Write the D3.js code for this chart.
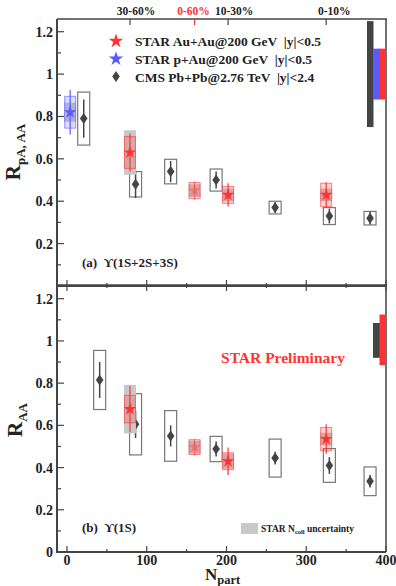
<!DOCTYPE html>
<html>
<head>
<meta charset="utf-8">
<script src="https://cdn.jsdelivr.net/npm/d3@7"></script>
<style>
  body { margin: 0; background: #fff; }
  svg text { font-family: "Liberation Serif", "DejaVu Serif", serif; font-weight: bold; }
</style>
</head>
<body>
<svg id="chart" width="396" height="586"></svg>
<script>
// ---- data ----
const xTicks = [0, 100, 200, 300, 400];
const yTickLabels = ['0.2', '0.4', '0.6', '0.8', '1', '1.2'];
const centLabels = ['30-60%', '0-60%', '10-30%', '0-10%'];
const centNpart = [79, 160, 202, 325];

// STAR Au+Au, panel (a)
const starAuNpart = [79, 160, 202, 325];
const starAuA = [0.63, 0.45, 0.43, 0.43];
const starAuAStat = [0.09, 0.045, 0.055, 0.06];
const starAuASys = [0.075, 0.038, 0.04, 0.055];
const starAuANcoll = [0.105, 0.03, 0.03, 0.03];
// STAR Au+Au, panel (b)
const starAuB = [0.677, 0.497, 0.43, 0.535];
const starAuBStat = [0.11, 0.04, 0.065, 0.07];
const starAuBSys = [0.065, 0.035, 0.04, 0.055];
const starAuBNcoll = [0.115, 0.03, 0.035, 0.03];

// STAR p+Au (panel a only)
const starPNpart = [4];
const starPA = [0.82];
const starPAStat = [0.105];
const starPASys = [0.075];
const starPANcoll = [0.045];

// CMS Pb+Pb
const cmsNpartA = [21, 86, 130, 187, 261, 329, 380];
const cmsA = [0.79, 0.48, 0.54, 0.50, 0.37, 0.33, 0.32];
const cmsAStat = [0.09, 0.065, 0.05, 0.04, 0.025, 0.035, 0.03];
const cmsASys = [0.125, 0.06, 0.058, 0.052, 0.03, 0.04, 0.032];
const cmsNpartB = [41, 86, 130, 187, 261, 329, 380];
const cmsB = [0.815, 0.605, 0.55, 0.488, 0.445, 0.41, 0.335];
const cmsBStat = [0.085, 0.065, 0.05, 0.035, 0.03, 0.04, 0.03];
const cmsBSys = [0.14, 0.145, 0.12, 0.06, 0.09, 0.08, 0.068];

// global uncertainties [low, high]
const globA = { cms: [0.75, 1.25], pAu: [0.88, 1.12], auAu: [0.88, 1.12] };
const globB = { cms: [0.92, 1.085], auAu: [0.885, 1.125] };

const legendLabels = ['STAR Au+Au@200 GeV  |y|<0.5', 'STAR p+Au@200 GeV  |y|<0.5', 'CMS Pb+Pb@2.76 TeV  |y|<2.4'];

// ---- layout ----
const RED = '#ff3333', BLUE = '#5a5aff', DARK = '#444', GRAY = '#c8c8c8';
const left = 57, right = 386;
const svg = d3.select('#chart');

const x = d3.scaleLinear().domain([-12.5, 400]).range([left, right]);
const yA = d3.scaleLinear().domain([0, 1.26]).range([286, 19]);
const yB = d3.scaleLinear().domain([0, 1.265]).range([552, 285]);

const diamond = 'M0,-5.5L3.8,0L0,5.5L-3.8,0Z';
const star = d3.symbol().type(d3.symbolStar).size(50)();
const legStar = d3.symbol().type(d3.symbolStar).size(65)();

function drawFrame(y, topTicks) {
  const g = svg.append('g');
  const [y0, y1] = y.range();
  // x ticks on bottom (inside)
  const xt = d3.range(0, 401, 50);
  g.selectAll('.xb').data(xt).join('line')
    .attr('x1', d => x(d)).attr('x2', d => x(d))
    .attr('y1', y0).attr('y2', d => y0 - (d % 100 === 0 ? 6 : 3))
    .attr('stroke', DARK).attr('stroke-width', 1.2);
  if (topTicks) {
    g.selectAll('.xt').data(xt).join('line')
      .attr('x1', d => x(d)).attr('x2', d => x(d))
      .attr('y1', y1).attr('y2', d => y1 + (d % 100 === 0 ? 6 : 3))
      .attr('stroke', DARK).attr('stroke-width', 1.2);
  }
  // y ticks on left (inside)
  const yt = d3.range(1, 13).map(d => d / 10);
  g.selectAll('.yl').data(yt).join('line')
    .attr('x1', left).attr('x2', (d, i) => left + (i % 2 === 1 ? 7 : 4))
    .attr('y1', d => y(d)).attr('y2', d => y(d))
    .attr('stroke', DARK).attr('stroke-width', 1.2);
  g.selectAll('.ylab').data(yTickLabels).join('text')
    .attr('x', left - 4).attr('y', d => y(+d) + 5)
    .attr('text-anchor', 'end').attr('font-size', 14).attr('fill', '#222')
    .text(d => d);
  // frame
  g.append('line').attr('x1', left).attr('x2', left).attr('y1', y0).attr('y2', y1)
    .attr('stroke', DARK).attr('stroke-width', 2);
  g.append('line').attr('x1', left - 1).attr('x2', right).attr('y1', y0).attr('y2', y0)
    .attr('stroke', DARK).attr('stroke-width', 2);
  g.append('line').attr('x1', left).attr('x2', right + 1).attr('y1', y1).attr('y2', y1)
    .attr('stroke', DARK).attr('stroke-width', 1.5);
  g.append('line').attr('x1', right).attr('x2', right).attr('y1', y0).attr('y2', y1)
    .attr('stroke', DARK).attr('stroke-width', 1.5);
}

function drawStar(y, npart, vals, stat, sys, ncoll, color, lightIdx) {
  const g = svg.append('g');
  npart.forEach((n, i) => {
    const cx = x(n);
    g.append('rect').attr('x', cx - 6).attr('width', 12)
      .attr('y', y(vals[i] + ncoll[i])).attr('height', y(vals[i] - ncoll[i]) - y(vals[i] + ncoll[i]))
      .attr('fill', GRAY);
    g.append('rect').attr('x', cx - 5.5).attr('width', 11)
      .attr('y', y(vals[i] + sys[i])).attr('height', y(vals[i] - sys[i]) - y(vals[i] + sys[i]))
      .attr('fill', color).attr('fill-opacity', 0.22)
      .attr('stroke', color).attr('stroke-opacity', 0.6).attr('stroke-width', 1);
    g.append('line').attr('x1', cx).attr('x2', cx)
      .attr('y1', y(vals[i] + stat[i])).attr('y2', y(vals[i] - stat[i]))
      .attr('stroke', color).attr('stroke-width', 1.2)
      .attr('opacity', i === lightIdx ? 0.55 : 1);
    g.append('path').attr('d', star).attr('transform', `translate(${cx},${y(vals[i])})`)
      .attr('fill', color).attr('opacity', i === lightIdx ? 0.35 : 1);
  });
}

function drawCms(y, npart, vals, stat, sys) {
  const g = svg.append('g');
  npart.forEach((n, i) => {
    const cx = x(n);
    g.append('rect').attr('x', cx - 6).attr('width', 12)
      .attr('y', y(vals[i] + sys[i])).attr('height', y(vals[i] - sys[i]) - y(vals[i] + sys[i]))
      .attr('fill', 'none').attr('stroke', '#777').attr('stroke-width', 1.2);
    g.append('line').attr('x1', cx).attr('x2', cx)
      .attr('y1', y(vals[i] + stat[i])).attr('y2', y(vals[i] - stat[i]))
      .attr('stroke', DARK).attr('stroke-width', 1.5);
    g.append('path').attr('d', diamond).attr('transform', `translate(${cx},${y(vals[i])})`)
      .attr('fill', DARK);
  });
}

function globalBar(y, range, x0, w, color) {
  svg.append('rect').attr('x', x0).attr('width', w)
    .attr('y', y(range[1])).attr('height', y(range[0]) - y(range[1]))
    .attr('fill', color);
}

// ---- panel (a) ----
drawFrame(yA, false);
drawCms(yA, cmsNpartA, cmsA, cmsAStat, cmsASys);
drawStar(yA, starPNpart, starPA, starPAStat, starPASys, starPANcoll, BLUE, -1);
drawStar(yA, starAuNpart, starAuA, starAuAStat, starAuASys, starAuANcoll, RED, 1);
globalBar(yA, globA.cms, right - 19, 6.5, DARK);
globalBar(yA, globA.pAu, right - 13, 7, BLUE);
globalBar(yA, globA.auAu, right - 6.5, 6.5, RED);

// centrality axis on top
svg.selectAll('.ct').data(centNpart).join('line')
  .attr('x1', d => x(d)).attr('x2', d => x(d)).attr('y1', 19).attr('y2', 25)
  .attr('stroke', (d, i) => i === 1 ? RED : DARK).attr('stroke-width', 1.2);
svg.selectAll('.cl').data(centLabels).join('text')
  .attr('x', (d, i) => x(centNpart[i]) + (i === 1 ? -1 : i === 3 ? 8 : 6))
  .attr('y', 15).attr('text-anchor', 'middle').attr('font-size', 11.5)
  .attr('fill', (d, i) => i === 1 ? RED : '#222')
  .text(d => d);

// legend
const legColors = [RED, BLUE, DARK];
legendLabels.forEach((t, i) => {
  const cy = 41 + i * 17.8;
  svg.append('path').attr('d', i < 2 ? legStar : diamond)
    .attr('transform', `translate(116,${cy})`).attr('fill', legColors[i]);
  svg.append('text').attr('x', 135).attr('y', cy + 5).attr('font-size', 13.5)
    .attr('fill', '#222').style('white-space', 'pre').text(t);
});

svg.append('text').attr('x', 82).attr('y', 267).attr('font-size', 13).attr('fill', '#222')
  .style('white-space', 'pre').text('(a)  ϒ(1S+2S+3S)');

// y title (a)
const tA = svg.append('text').attr('transform', 'translate(20,152) rotate(-90)')
  .attr('text-anchor', 'middle').attr('fill', '#222');
tA.append('tspan').attr('font-size', 21).text('R');
tA.append('tspan').attr('font-size', 13).attr('dy', 5).text('pA, AA');

// ---- panel (b) ----
drawFrame(yB, true);
drawCms(yB, cmsNpartB, cmsB, cmsBStat, cmsBSys);
drawStar(yB, starAuNpart, starAuB, starAuBStat, starAuBSys, starAuBNcoll, RED, 1);
globalBar(yB, globB.cms, right - 13, 7, DARK);
globalBar(yB, globB.auAu, right - 6.5, 6.5, RED);

svg.append('text').attr('x', left - 4).attr('y', yB(0) + 5).attr('text-anchor', 'end')
  .attr('font-size', 14).attr('fill', '#222').text('0');

svg.append('text').attr('x', 283).attr('y', 363).attr('text-anchor', 'middle')
  .attr('font-size', 15.5).attr('fill', RED).text('STAR Preliminary');

svg.append('text').attr('x', 82).attr('y', 532).attr('font-size', 13).attr('fill', '#222')
  .style('white-space', 'pre').text('(b)  ϒ(1S)');

// Ncoll legend
svg.append('rect').attr('x', 241).attr('y', 523).attr('width', 17).attr('height', 11).attr('fill', GRAY);
const nl = svg.append('text').attr('x', 261).attr('y', 532).attr('font-size', 9.5).attr('fill', '#222');
nl.append('tspan').text('STAR N');
nl.append('tspan').attr('font-size', 6.5).attr('dy', 2).text('coll');
nl.append('tspan').attr('dy', -2).text(' uncertainty');

// y title (b)
const tB = svg.append('text').attr('transform', 'translate(22,420) rotate(-90)')
  .attr('text-anchor', 'middle').attr('fill', '#222');
tB.append('tspan').attr('font-size', 21).text('R');
tB.append('tspan').attr('font-size', 13).attr('dy', 5).text('AA');

// x tick labels
svg.selectAll('.xl').data(xTicks).join('text')
  .attr('x', d => x(d)).attr('y', 565).attr('text-anchor', 'middle')
  .attr('font-size', 14).attr('fill', '#222').text(d => d);

// x title
const tx = svg.append('text').attr('x', 205).attr('y', 580).attr('fill', '#222');
tx.append('tspan').attr('font-size', 17).text('N');
tx.append('tspan').attr('font-size', 12.5).attr('dy', 4).text('part');
</script>
</body>
</html>
